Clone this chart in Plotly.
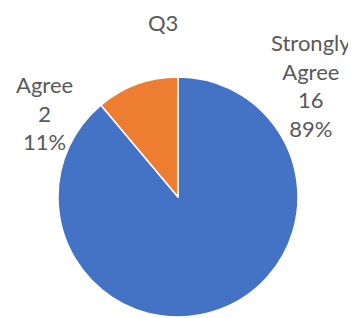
import plotly.graph_objects as go

title = "Q3"
categories = ["Strongly Agree", "Agree"]
values = [16, 2]
colors = ["#4472C4", "#ED7D31"]

total = sum(values)
pcts = [round(v / total * 100) for v in values]

# The page body has an 8px margin, so the figure is laid out 8px smaller.
W, H = 348, 310

fig = go.Figure()
fig.add_trace(go.Pie(
    labels=categories,
    values=values,
    sort=False,
    direction="clockwise",
    rotation=0,
    textinfo="none",
    hoverinfo="label+value+percent",
    marker=dict(colors=colors, line=dict(color="white", width=1.5)),
    domain=dict(x=[50 / W, 290 / W], y=[1 / H, 241 / H]),
    showlegend=False,
))

font = dict(family="Lato, Carlito, Calibri, sans-serif", size=22, color="#595959")

label_pos = {
    "Strongly Agree": (303, 77),
    "Agree": (36, 105),
}
annotations = []
for cat, v, p in zip(categories, values, pcts):
    x, y = label_pos[cat]
    text = "<br>".join(cat.split(" ") + [str(v), f"{p}%"])
    annotations.append(dict(
        text=text, x=x / W, y=1 - y / H, xref="paper", yref="paper",
        xanchor="center", yanchor="middle", showarrow=False, font=font,
        align="center",
    ))

annotations.append(dict(
    text=title, x=155 / W, y=1, xref="paper", yref="paper",
    xanchor="center", yanchor="top", showarrow=False,
    font=dict(family="Lato, Carlito, Calibri, sans-serif", size=22, color="#595959"),
    borderpad=0,
))

fig.update_layout(
    width=W, height=H,
    margin=dict(l=0, r=0, t=0, b=0),
    paper_bgcolor="white",
    plot_bgcolor="white",
    annotations=annotations,
)

fig.write_html("out.html")
